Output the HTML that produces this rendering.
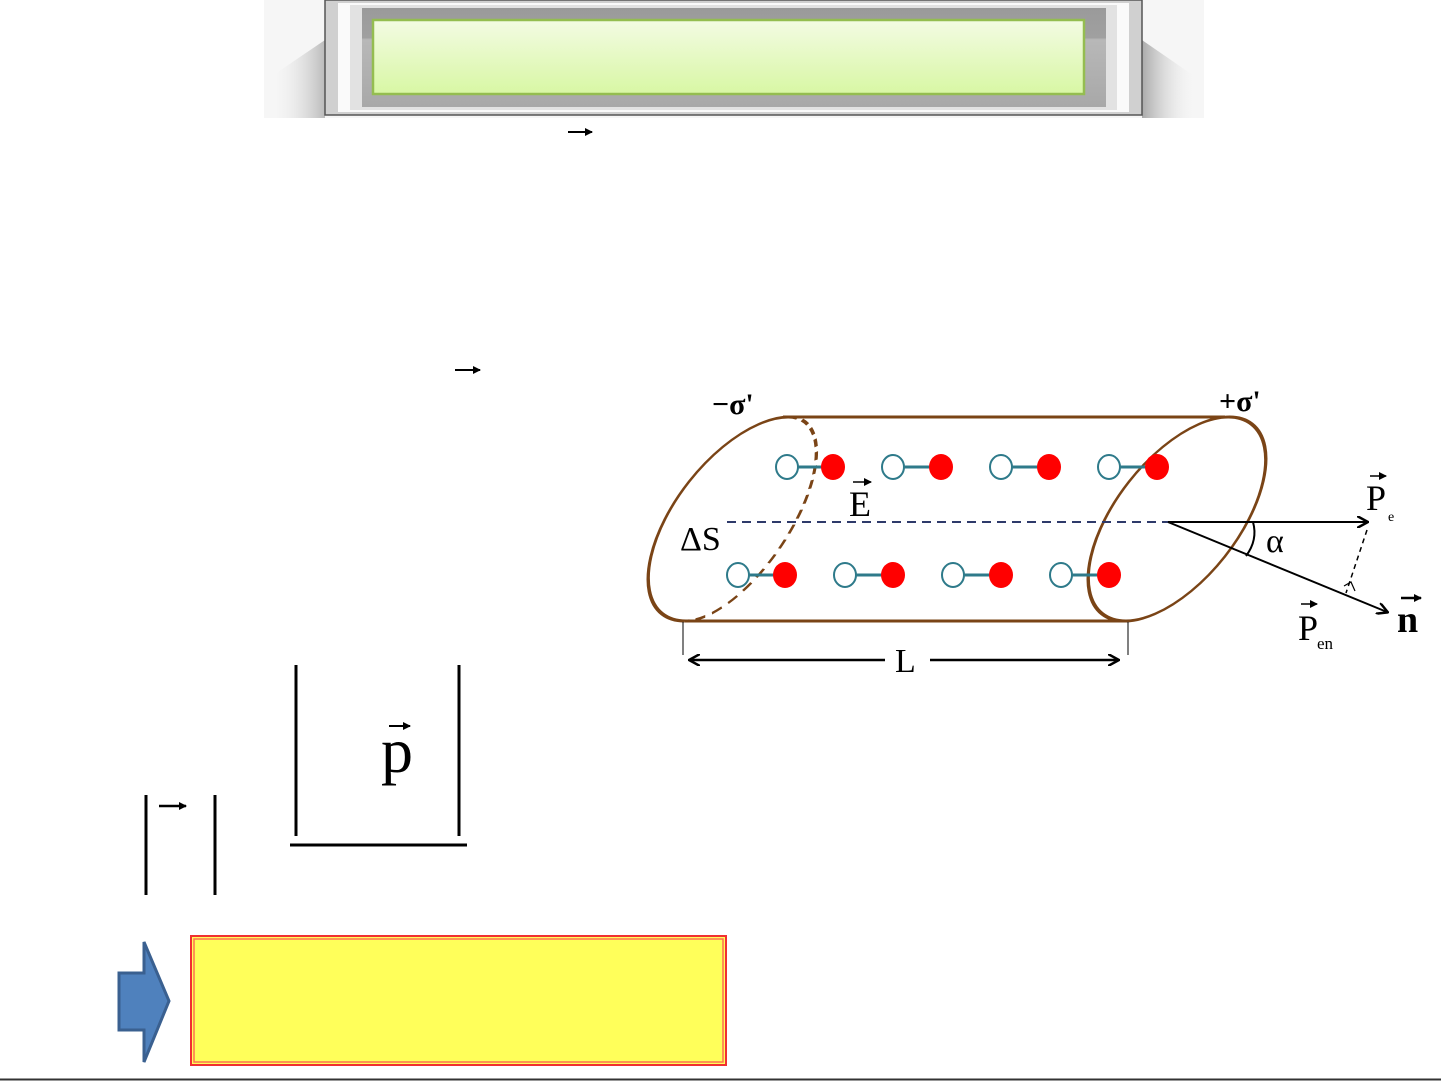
<!DOCTYPE html>
<html><head><meta charset="utf-8"><style>
html,body{margin:0;padding:0;background:#fff;width:1441px;height:1081px;overflow:hidden}
svg{display:block}
text{font-family:"Liberation Serif",serif}
</style></head><body>
<svg width="1441" height="1081" viewBox="0 0 1441 1081" xmlns="http://www.w3.org/2000/svg">
<defs>
<linearGradient id="inner" x1="0" y1="0" x2="0" y2="1">
<stop offset="0" stop-color="#9a9a9a"/><stop offset="0.3" stop-color="#a0a0a0"/><stop offset="0.32" stop-color="#b8b8b8"/><stop offset="1" stop-color="#a8a8a8"/></linearGradient>
<linearGradient id="green" x1="0" y1="0" x2="0" y2="1">
<stop offset="0" stop-color="#f3fbe3"/><stop offset="1" stop-color="#d8f7a4"/></linearGradient>
<linearGradient id="shR" x1="0" y1="0" x2="1" y2="0">
<stop offset="0" stop-color="#aaa"/><stop offset="1" stop-color="#fff" stop-opacity="0"/></linearGradient>
<linearGradient id="shL" x1="1" y1="0" x2="0" y2="0">
<stop offset="0" stop-color="#bbb"/><stop offset="1" stop-color="#fff" stop-opacity="0"/></linearGradient>
<marker id="ah" markerWidth="12" markerHeight="12" refX="10" refY="6" orient="auto" markerUnits="userSpaceOnUse">
<path d="M0,0 L11,6 L0,12" fill="none" stroke="#000" stroke-width="2.5"/></marker>
<marker id="sa" markerWidth="8" markerHeight="8" refX="7" refY="4" orient="auto" markerUnits="userSpaceOnUse">
<path d="M0,0 L8,4 L0,8 Z" fill="#000"/></marker>
</defs>
<rect x="264" y="0" width="940" height="118" fill="#f6f6f6"/>
<path d="M1142,40 L1200,80 L1200,118 L1142,118 Z" fill="url(#shR)"/>
<path d="M325,40 L266,80 L266,118 L325,118 Z" fill="url(#shL)"/>
<rect x="325" y="0" width="817" height="115" fill="#d0d0d0" stroke="#555" stroke-width="1.5"/>
<rect x="338" y="3" width="791" height="109" fill="#fafafa"/>
<rect x="350" y="5" width="767" height="105" fill="#e2e2e2"/>
<rect x="362" y="8" width="744" height="99" fill="url(#inner)"/>
<rect x="373" y="20" width="711" height="74" fill="url(#green)" stroke="#94bd50" stroke-width="2.5"/>
<line x1="568" y1="132" x2="592" y2="132" stroke="#000" stroke-width="2" marker-end="url(#sa)"/>
<line x1="455" y1="370" x2="480" y2="370" stroke="#000" stroke-width="2" marker-end="url(#sa)"/>

<g stroke="#7a4416" stroke-width="3" fill="none">
<line x1="783" y1="417" x2="1225" y2="417"/>
<line x1="685" y1="621" x2="1128" y2="621"/>
<g transform="translate(737,519) skewX(-27)">
<path d="M0,-102 A72,102 0 0 0 0,102"/>
<path d="M0,-102 A60,102 0 0 1 0,102" stroke-dasharray="9,6"/>
</g>
<g transform="translate(1177,519) skewX(-27)"><ellipse cx="0" cy="0" rx="72" ry="102"/></g>
</g>
<line x1="727" y1="522" x2="1168" y2="522" stroke="#2e3a6a" stroke-width="2" stroke-dasharray="9,6"/>
<g stroke="#2e7a8a" stroke-width="3">
<g fill="#fff">
<line x1="787" y1="467" x2="833" y2="467"/><line x1="893" y1="467" x2="941" y2="467"/><line x1="1001" y1="467" x2="1049" y2="467"/><line x1="1109" y1="467" x2="1157" y2="467"/>
<line x1="738" y1="575" x2="785" y2="575"/><line x1="845" y1="575" x2="893" y2="575"/><line x1="953" y1="575" x2="1001" y2="575"/><line x1="1061" y1="575" x2="1109" y2="575"/>
<ellipse cx="787" cy="467" rx="11" ry="12" stroke-width="2"/><ellipse cx="893" cy="467" rx="11" ry="12" stroke-width="2"/><ellipse cx="1001" cy="467" rx="11" ry="12" stroke-width="2"/><ellipse cx="1109" cy="467" rx="11" ry="12" stroke-width="2"/>
<ellipse cx="738" cy="575" rx="11" ry="12" stroke-width="2"/><ellipse cx="845" cy="575" rx="11" ry="12" stroke-width="2"/><ellipse cx="953" cy="575" rx="11" ry="12" stroke-width="2"/><ellipse cx="1061" cy="575" rx="11" ry="12" stroke-width="2"/>
</g>
<g fill="#f00" stroke="none">
<ellipse cx="833" cy="467" rx="12" ry="13"/><ellipse cx="941" cy="467" rx="12" ry="13"/><ellipse cx="1049" cy="467" rx="12" ry="13"/><ellipse cx="1157" cy="467" rx="12" ry="13"/>
<ellipse cx="785" cy="575" rx="12" ry="13"/><ellipse cx="893" cy="575" rx="12" ry="13"/><ellipse cx="1001" cy="575" rx="12" ry="13"/><ellipse cx="1109" cy="575" rx="12" ry="13"/>
</g>
</g>
<line x1="1168" y1="522" x2="1367" y2="522" stroke="#000" stroke-width="2" marker-end="url(#ah)"/>
<line x1="1168" y1="522" x2="1387" y2="612" stroke="#000" stroke-width="2" marker-end="url(#ah)"/>
<line x1="1367" y1="530" x2="1346" y2="593" stroke="#000" stroke-width="1.5" stroke-dasharray="5,4"/>
<path d="M1344,586 L1351,582 L1355,591" fill="none" stroke="#000" stroke-width="1.2"/>
<path d="M1253,522 Q1258,540 1246,556" fill="none" stroke="#000" stroke-width="2"/>
<text x="1266" y="552" font-size="34">α</text>
<text x="1366" y="510" font-size="36">P</text><text x="1388" y="521" font-size="14">e</text>
<line x1="1370" y1="476" x2="1386" y2="476" stroke="#000" stroke-width="1.5" marker-end="url(#sa)"/>
<text x="1298" y="640" font-size="36">P</text><text x="1317" y="649" font-size="17">en</text>
<line x1="1301" y1="604" x2="1317" y2="604" stroke="#000" stroke-width="1.5" marker-end="url(#sa)"/>
<text x="1397" y="632" font-size="38" font-weight="bold">n</text>
<line x1="1401" y1="598" x2="1421" y2="598" stroke="#000" stroke-width="2.5" marker-end="url(#sa)"/>
<text x="849" y="516" font-size="36">E</text>
<line x1="853" y1="482" x2="871" y2="482" stroke="#000" stroke-width="1.5" marker-end="url(#sa)"/>
<text x="680" y="550" font-size="34">ΔS</text>
<text x="712" y="414" font-size="30" font-weight="bold" font-family="Liberation Sans">−σ'</text>
<text x="1219" y="411" font-size="30" font-weight="bold" font-family="Liberation Sans">+σ'</text>
<line x1="683" y1="622" x2="683" y2="655" stroke="#000" stroke-width="1"/>
<line x1="1128" y1="622" x2="1128" y2="655" stroke="#000" stroke-width="1"/>
<line x1="885" y1="660" x2="690" y2="660" stroke="#000" stroke-width="2.5" marker-end="url(#ah)"/>
<line x1="930" y1="660" x2="1118" y2="660" stroke="#000" stroke-width="2.5" marker-end="url(#ah)"/>
<text x="895" y="672" font-size="34" font-family="Liberation Sans">L</text>

<g stroke="#000" stroke-width="3">
<line x1="296" y1="665" x2="296" y2="836"/><line x1="459" y1="665" x2="459" y2="836"/>
<line x1="290" y1="845" x2="467" y2="845"/>
<line x1="146" y1="795" x2="146" y2="895"/><line x1="215" y1="795" x2="215" y2="895"/>
</g>
<text x="381" y="772" font-size="64">p</text>
<line x1="389" y1="726" x2="410" y2="726" stroke="#000" stroke-width="2" marker-end="url(#sa)"/>
<line x1="159" y1="806" x2="186" y2="806" stroke="#000" stroke-width="2.5" marker-end="url(#sa)"/>

<path d="M119,973 L144,973 L144,942 L169,1001 L144,1062 L144,1030 L119,1030 Z" fill="#4f81bd" stroke="#3a6090" stroke-width="3"/>
<rect x="191" y="936" width="535" height="129" fill="#ffff5a" stroke="#f03030" stroke-width="2"/>
<rect x="194" y="939" width="529" height="123" fill="none" stroke="#ff7050" stroke-width="1.5"/>
<line x1="0" y1="1079.5" x2="1441" y2="1079.5" stroke="#333" stroke-width="2"/>
</svg>
</body></html>
